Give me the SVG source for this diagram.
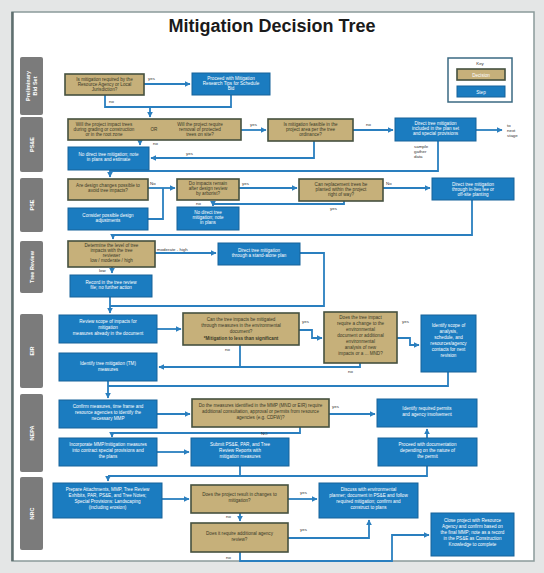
<svg xmlns="http://www.w3.org/2000/svg" width="544" height="573" viewBox="0 0 544 573">
<defs>
<marker id="ah" viewBox="0 0 10 10" refX="9" refY="5" markerWidth="6" markerHeight="6" markerUnits="userSpaceOnUse" orient="auto">
<path d="M0,0 L10,5 L0,10 z" fill="#2a7fbf"/>
</marker>
<style>
.step{fill:#1b7cc0;stroke:#17639a;stroke-width:1}
.dec{fill:#c6b07a;stroke:#45513f;stroke-width:1.6}
.lane{fill:#7b7b7b}
.ln{fill:none;stroke:#2a7fbf;stroke-width:1.8}
.arr{marker-end:url(#ah)}
.t{font-family:"Liberation Sans",Arial,sans-serif;font-size:4.6px;text-anchor:middle}
.w{fill:#ffffff}
.d{fill:#3a3a28}
.lb{font-family:"Liberation Sans",Arial,sans-serif;font-size:4.4px;fill:#333}
.lt{font-family:"Liberation Sans",Arial,sans-serif;font-size:5.5px;font-weight:bold;fill:#ffffff;text-anchor:middle}
</style>
</defs>
<rect width="544" height="573" fill="#e4e6e6"/>
<rect x="12" y="12" width="522" height="549" fill="#ffffff" stroke="#8a9a9a" stroke-width="1.5"/>
<line x1="12.5" y1="12" x2="12.5" y2="561" stroke="#5f6f6f" stroke-width="2.5"/>
<text x="272" y="32" font-family="Liberation Sans, Arial, sans-serif" font-size="18" font-weight="bold" fill="#1a1a1a" text-anchor="middle">Mitigation Decision Tree</text>

<g id="lanes">
<rect class="lane" x="20" y="57" width="23" height="58" rx="2"/>
<text class="lt" transform="translate(30,86) rotate(-90)">Preliminary</text>
<text class="lt" transform="translate(36.5,86) rotate(-90)">Bid Set</text>
<rect class="lane" x="20" y="117" width="23" height="55" rx="2"/>
<text class="lt" transform="translate(33.5,144.5) rotate(-90)">PS&amp;E</text>
<rect class="lane" x="20" y="178" width="23" height="54" rx="2"/>
<text class="lt" transform="translate(33.5,205) rotate(-90)">PSE</text>
<rect class="lane" x="20" y="241" width="23" height="52" rx="2"/>
<text class="lt" transform="translate(33.5,267) rotate(-90)">Tree Review</text>
<rect class="lane" x="20" y="314" width="23" height="74" rx="2"/>
<text class="lt" transform="translate(33.5,351) rotate(-90)">EIR</text>
<rect class="lane" x="20" y="394" width="23" height="78" rx="2"/>
<text class="lt" transform="translate(33.5,433) rotate(-90)">NEPA</text>
<rect class="lane" x="20" y="477" width="23" height="73" rx="2"/>
<text class="lt" transform="translate(33.5,513.5) rotate(-90)">NRC</text>
</g>

<g id="key">
<rect x="448" y="58" width="64" height="44" fill="#ffffff" stroke="#3b6a82" stroke-width="1.5"/>
<text class="lb" x="480" y="65" text-anchor="middle">Key</text>
<rect class="dec" x="457" y="69" width="48" height="11"/>
<text class="t w" x="481" y="76.5">Decision</text>
<rect class="step" x="457" y="86" width="48" height="11"/>
<text class="t w" x="481" y="93.5">Step</text>
</g>

<g id="connectors">
<path class="ln arr" d="M144,84 H190"/>
<path class="ln" d="M105,95 V107 H231 V95"/>
<path class="ln arr" d="M150,107 V117"/>
<path class="ln arr" d="M241,130 H266"/>
<path class="ln arr" d="M353,130 H393"/>
<path class="ln arr" d="M476,130 H502"/>
<path class="ln arr" d="M140,140 V145"/>
<path class="ln arr" d="M314,141 V158 H151"/>
<path class="ln" d="M438,141 V171 H110"/>
<path class="ln arr" d="M110,170 V177"/>
<path class="ln arr" d="M148,188 H175"/>
<path class="ln" d="M148,219 H163 V188"/>
<path class="ln arr" d="M239,188 H297"/>
<path class="ln arr" d="M383,188 H430"/>
<path class="ln arr" d="M344,201 V204 H213 V206"/>
<path class="ln arr" d="M472,200 V235 H113 V239"/>
<path class="ln arr" d="M155,253 H216"/>
<path class="ln arr" d="M112,267 V273"/>
<path class="ln" d="M300,253 H324 V306 H110"/>
<path class="ln arr" d="M110,297 V313"/>
<path class="ln arr" d="M157,329 H181"/>
<path class="ln arr" d="M299,330 H312 V338 H322"/>
<path class="ln arr" d="M397,338 H410 V345 H419"/>
<path class="ln arr" d="M360,363 V367 H159"/>
<path class="ln" d="M240,345 V367"/>
<path class="ln" d="M448,372 V386 H108"/>
<path class="ln arr" d="M108,381 V398"/>
<path class="ln arr" d="M157,414 H190"/>
<path class="ln arr" d="M329,414 H375"/>
<path class="ln arr" d="M300,427 V433 H112 V437"/>
<path class="ln arr" d="M157,452 H189"/>
<path class="ln arr" d="M427,438 V429"/>
<path class="ln" d="M240,466 V476"/>
<path class="ln" d="M427,466 V476 H108"/>
<path class="ln arr" d="M108,476 V481"/>
<path class="ln arr" d="M162,499 H189"/>
<path class="ln arr" d="M288,499 H317"/>
<path class="ln arr" d="M240,513 V521"/>
<path class="ln arr" d="M288,538 H369 V520"/>
<path class="ln arr" d="M240,552 V561 H392 V535 H429"/>
</g>

<g id="labels">
<text class="lb" x="148" y="80">yes</text>
<text class="lb" x="109" y="103">no</text>
<text class="lb" x="250" y="126">yes</text>
<text class="lb" x="366" y="126">no</text>
<text class="lb" x="507" y="127">to</text>
<text class="lb" x="507" y="132">next</text>
<text class="lb" x="507" y="137">stage</text>
<text class="lb" x="153" y="145">no</text>
<text class="lb" x="186" y="155">yes</text>
<text class="lb" x="414" y="148">sample</text>
<text class="lb" x="414" y="153">gather</text>
<text class="lb" x="414" y="158">data</text>
<text class="lb" x="150" y="185">No</text>
<text class="lb" x="242" y="185">yes</text>
<text class="lb" x="386" y="185">No</text>
<text class="lb" x="196" y="205">no</text>
<text class="lb" x="330" y="210">yes</text>
<text class="lb" x="157" y="251">moderate - high</text>
<text class="lb" x="99" y="272">low</text>
<text class="lb" x="302" y="323">yes</text>
<text class="lb" x="402" y="323">yes</text>
<text class="lb" x="225" y="351">no</text>
<text class="lb" x="348" y="373">no</text>
<text class="lb" x="332" y="408">yes</text>
<text class="lb" x="261" y="435">NO</text>
<text class="lb" x="300" y="494">yes</text>
<text class="lb" x="226" y="518">no</text>
<text class="lb" x="300" y="531">yes</text>
<text class="lb" x="226" y="559">no</text>
</g>

<g id="n1a"><rect class="dec" x="65" y="74" width="79" height="21"/>
<text class="t d" x="104.5" y="81">Is mitigation required by the</text>
<text class="t d" x="104.5" y="86">Resource Agency or Local</text>
<text class="t d" x="104.5" y="91">Jurisdiction?</text></g>
<g id="n1b"><rect class="step" x="192" y="73" width="78" height="22"/>
<text class="t w" x="231" y="80">Proceed with Mitigation</text>
<text class="t w" x="231" y="85">Research Tips for Schedule</text>
<text class="t w" x="231" y="90">Bid</text></g>

<g id="n2a"><rect class="dec" x="68" y="119" width="173" height="21"/>
<text class="t d" x="104" y="126">Will the project impact trees</text>
<text class="t d" x="104" y="131">during grading or construction</text>
<text class="t d" x="104" y="136">or in the root zone</text>
<text class="t d" x="154" y="131">OR</text>
<text class="t d" x="200" y="126">Will the project require</text>
<text class="t d" x="200" y="131">removal of protected</text>
<text class="t d" x="200" y="136">trees on site?</text></g>
<g id="n2b"><rect class="dec" x="268" y="119" width="85" height="22"/>
<text class="t d" x="310.5" y="126">Is mitigation feasible in the</text>
<text class="t d" x="310.5" y="131">project area per the tree</text>
<text class="t d" x="310.5" y="136">ordinance?</text></g>
<g id="n2c"><rect class="step" x="395" y="118" width="81" height="23"/>
<text class="t w" x="435.5" y="125">Direct tree mitigation</text>
<text class="t w" x="435.5" y="130">included in the plan set</text>
<text class="t w" x="435.5" y="135">and special provisions</text></g>
<g id="n2d"><rect class="step" x="68" y="147" width="81" height="23"/>
<text class="t w" x="108.5" y="156">No direct tree mitigation; note</text>
<text class="t w" x="108.5" y="161">in plans and estimate</text></g>

<g id="n3a"><rect class="dec" x="68" y="179" width="80" height="21"/>
<text class="t d" x="108" y="187">Are design changes possible to</text>
<text class="t d" x="108" y="192">avoid tree impacts?</text></g>
<g id="n3b"><rect class="dec" x="177" y="179" width="62" height="21"/>
<text class="t d" x="208" y="185">Do impacts remain</text>
<text class="t d" x="208" y="190">after design review</text>
<text class="t d" x="208" y="195">by arborist?</text></g>
<g id="n3c"><rect class="dec" x="299" y="179" width="84" height="22"/>
<text class="t d" x="341" y="186">Can replacement trees be</text>
<text class="t d" x="341" y="191">planted within the project</text>
<text class="t d" x="341" y="196">right of way?</text></g>
<g id="n3d"><rect class="step" x="432" y="178" width="82" height="22"/>
<text class="t w" x="473" y="186">Direct tree mitigation</text>
<text class="t w" x="473" y="191">through in-lieu fee or</text>
<text class="t w" x="473" y="196">off-site planting</text></g>
<g id="n3e"><rect class="step" x="68" y="208" width="80" height="22"/>
<text class="t w" x="108" y="217">Consider possible design</text>
<text class="t w" x="108" y="222">adjustments</text></g>
<g id="n3f"><rect class="step" x="177" y="207" width="62" height="23"/>
<text class="t w" x="208" y="214">No direct tree</text>
<text class="t w" x="208" y="219">mitigation; note</text>
<text class="t w" x="208" y="224">in plans</text></g>

<g id="n4a"><rect class="dec" x="68" y="241" width="87" height="26"/>
<text class="t d" x="111.5" y="247">Determine the level of tree</text>
<text class="t d" x="111.5" y="252">impacts with the tree</text>
<text class="t d" x="111.5" y="257">reviewer</text>
<text class="t d" x="111.5" y="262">low / moderate / high</text></g>
<g id="n4b"><rect class="step" x="218" y="243" width="82" height="22"/>
<text class="t w" x="259" y="252">Direct tree mitigation</text>
<text class="t w" x="259" y="257">through a stand-alone plan</text></g>
<g id="n4c"><rect class="step" x="70" y="275" width="82" height="22"/>
<text class="t w" x="111" y="284">Record in the tree review</text>
<text class="t w" x="111" y="289">file; no further action</text></g>

<g id="n5a"><rect class="step" x="59" y="315" width="98" height="28"/>
<text class="t w" x="108" y="323">Review scope of impacts for</text>
<text class="t w" x="108" y="329">mitigation</text>
<text class="t w" x="108" y="335">measures already in the document</text></g>
<g id="n5b"><rect class="dec" x="183" y="313" width="116" height="32"/>
<text class="t d" x="241" y="321">Can the tree impacts be mitigated</text>
<text class="t d" x="241" y="327">through measures in the environmental</text>
<text class="t d" x="241" y="333">document?</text>
<text class="t d" x="241" y="340" font-weight="bold">*Mitigation to less than significant</text></g>
<g id="n5c"><rect class="dec" x="324" y="312" width="73" height="51"/>
<text class="t d" x="360.5" y="319">Does the tree impact</text>
<text class="t d" x="360.5" y="325">require a change to the</text>
<text class="t d" x="360.5" y="331">environmental</text>
<text class="t d" x="360.5" y="337">document or additional</text>
<text class="t d" x="360.5" y="343">environmental</text>
<text class="t d" x="360.5" y="349">analysis of new</text>
<text class="t d" x="360.5" y="355">impacts or a ... MND?</text></g>
<g id="n5d"><rect class="step" x="421" y="315" width="55" height="57"/>
<text class="t w" x="448.5" y="327">Identify scope of</text>
<text class="t w" x="448.5" y="333">analysis,</text>
<text class="t w" x="448.5" y="339">schedule, and</text>
<text class="t w" x="448.5" y="345">resources/agency</text>
<text class="t w" x="448.5" y="351">contacts for next</text>
<text class="t w" x="448.5" y="357">revision</text></g>
<g id="n5e"><rect class="step" x="59" y="353" width="98" height="28"/>
<text class="t w" x="108" y="365">Identify tree mitigation (TM)</text>
<text class="t w" x="108" y="371">measures</text></g>

<g id="n6a"><rect class="step" x="59" y="400" width="98" height="28"/>
<text class="t w" x="108" y="408">Confirm measures, time frame and</text>
<text class="t w" x="108" y="414">resource agencies to identify the</text>
<text class="t w" x="108" y="420">necessary MMP</text></g>
<g id="n6b"><rect class="dec" x="192" y="399" width="137" height="28"/>
<text class="t d" x="260.5" y="407">Do the measures identified in the MMP (MND or EIR) require</text>
<text class="t d" x="260.5" y="413">additional consultation, approval or permits from resource</text>
<text class="t d" x="260.5" y="419">agencies (e.g. CDFW)?</text></g>
<g id="n6c"><rect class="step" x="377" y="399" width="100" height="28"/>
<text class="t w" x="427" y="410">Identify required permits</text>
<text class="t w" x="427" y="416">and agency involvement</text></g>
<g id="n6d"><rect class="step" x="59" y="438" width="98" height="28"/>
<text class="t w" x="108" y="446">Incorporate MMP/mitigation measures</text>
<text class="t w" x="108" y="452">into contract special provisions and</text>
<text class="t w" x="108" y="458">the plans</text></g>
<g id="n6e"><rect class="step" x="191" y="438" width="98" height="28"/>
<text class="t w" x="240" y="446">Submit PS&amp;E, PAR, and Tree</text>
<text class="t w" x="240" y="452">Review Reports with</text>
<text class="t w" x="240" y="458">mitigation measures</text></g>
<g id="n6f"><rect class="step" x="378" y="438" width="99" height="28"/>
<text class="t w" x="427.5" y="446">Proceed with documentation</text>
<text class="t w" x="427.5" y="452">depending on the nature of</text>
<text class="t w" x="427.5" y="458">the permit</text></g>

<g id="n7a"><rect class="step" x="53" y="483" width="109" height="35"/>
<text class="t w" x="107.5" y="491">Prepare Attachments, MMP, Tree Review</text>
<text class="t w" x="107.5" y="497">Exhibits, PAR, PS&amp;E, and Tree Notes;</text>
<text class="t w" x="107.5" y="503">Special Provisions: Landscaping</text>
<text class="t w" x="107.5" y="509">(including erosion)</text></g>
<g id="n7b"><rect class="dec" x="191" y="485" width="97" height="28"/>
<text class="t d" x="239.5" y="496">Does the project result in changes to</text>
<text class="t d" x="239.5" y="502">mitigation?</text></g>
<g id="n7c"><rect class="step" x="319" y="483" width="99" height="35"/>
<text class="t w" x="368.5" y="491">Discuss with environmental</text>
<text class="t w" x="368.5" y="497">planner; document in PS&amp;E and follow</text>
<text class="t w" x="368.5" y="503">required mitigation; confirm and</text>
<text class="t w" x="368.5" y="509">construct to plans</text></g>
<g id="n7d"><rect class="dec" x="191" y="523" width="97" height="29"/>
<text class="t d" x="239.5" y="535">Does it require additional agency</text>
<text class="t d" x="239.5" y="541">review?</text></g>
<g id="n7e"><rect class="step" x="431" y="513" width="83" height="43"/>
<text class="t w" x="472.5" y="522">Close project with Resource</text>
<text class="t w" x="472.5" y="528">Agency and confirm based on</text>
<text class="t w" x="472.5" y="534">the final MMP; note as a record</text>
<text class="t w" x="472.5" y="540">in the PS&amp;E as Construction</text>
<text class="t w" x="472.5" y="546">Knowledge to complete</text></g>
</svg>
